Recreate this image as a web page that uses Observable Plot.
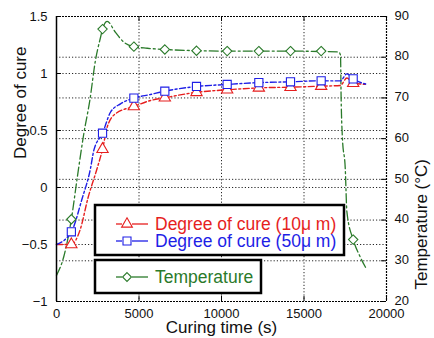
<!DOCTYPE html>
<html>
<head>
<meta charset="utf-8">
<script src="https://cdn.jsdelivr.net/npm/d3@7"></script>
<script src="https://cdn.jsdelivr.net/npm/@observablehq/plot@0.6"></script>
<style>
  html, body { margin: 0; padding: 0; background: #fff; }
  svg { display: block; }
</style>
</head>
<body>
<div id="chart"></div>
<script>
// ---- data ----
const xTicks = [0, 5000, 10000, 15000, 20000];
const cureTicks = [-1, -0.5, 0, 0.5, 1, 1.5];
const tempTicks = [20, 30, 40, 50, 60, 70, 80, 90];

// marker times (s)
const markTime = [900, 2790, 4690, 6565, 8485, 10343, 12263, 14182, 16040, 17980];
const markCure10 = [-0.50, 0.336, 0.711, 0.787, 0.835, 0.857, 0.874, 0.880, 0.889, 0.915];
const markCure50 = [-0.389, 0.476, 0.784, 0.845, 0.886, 0.904, 0.920, 0.927, 0.936, 0.953];
const markTemp = [40.2, 86.9, 82.6, 81.9, 81.6, 81.5, 81.5, 81.5, 81.5, 35.2];

// curves
const cure10Time = [0, 900, 1455, 1900, 2460, 2790, 3070, 3575, 4690, 5700, 6565, 8485, 10343, 12263, 14182, 16040, 17200, 17600, 17980, 18770];
const cure10Val  = [-0.5, -0.5, -0.36, -0.096, 0.167, 0.336, 0.529, 0.647, 0.711, 0.763, 0.787, 0.835, 0.857, 0.874, 0.880, 0.889, 0.895, 0.96, 0.915, 0.905];
const cure50Time = [0, 900, 1555, 2060, 2260, 2790, 3270, 3880, 4690, 5700, 6565, 8485, 10343, 12263, 14182, 16040, 17200, 17600, 17980, 18770];
const cure50Val  = [-0.5, -0.389, -0.096, 0.167, 0.325, 0.476, 0.66, 0.734, 0.784, 0.816, 0.845, 0.886, 0.904, 0.920, 0.927, 0.936, 0.935, 0.997, 0.953, 0.906];
const tempTime = [0, 440, 900, 1250, 1655, 2020, 2360, 2670, 2790, 3070, 3575, 4080, 4690, 5500, 6565, 8485, 10343, 12263, 14182, 16040, 17100, 17212, 17250, 17330, 17500, 17600, 17980, 18400, 18770];
const tempVal  = [26.4, 31, 40.2, 50.2, 61.2, 69.4, 79.2, 84.9, 86.9, 88.8, 86.1, 83.7, 82.6, 82.2, 81.9, 81.6, 81.5, 81.5, 81.5, 81.4, 81.3, 80.5, 70, 60, 52.7, 42, 35.2, 31, 28.1];

const seriesNames = ["Degree of cure (10μ m)", "Degree of cure (50μ m)", "Temperature"];
const colors = ["#e61e1e", "#1e1ee6", "#2a7a2a"];

// ---- mapping temperature onto the left scale ----
const toCure = t => -1 + (t - 20) / 70 * 2.5;
const fromCure = c => 20 + (c + 1) / 2.5 * 70;

const c10 = cure10Time.map((t, i) => ({t, v: cure10Val[i]}));
const c50 = cure50Time.map((t, i) => ({t, v: cure50Val[i]}));
const tmp = tempTime.map((t, i) => ({t, v: toCure(tempVal[i])}));
const m10 = markTime.map((t, i) => ({t, v: markCure10[i]}));
const m50 = markTime.map((t, i) => ({t, v: markCure50[i]}));
const mT = markTime.map((t, i) => ({t, v: toCure(markTemp[i])}));

const fmtCure = d => d < 0 ? "\u2212" + Math.abs(d) : String(d);
const grid = {stroke: "#000", strokeOpacity: 0.85, strokeDasharray: "1.2,2"};
const frameDot = {stroke: "#000", strokeWidth: 1.2, strokeDasharray: "2,1"};
const font = "'Liberation Sans', Arial, sans-serif";

const chart = Plot.plot({
  width: 434, height: 338,
  marginLeft: 56, marginRight: 48, marginTop: 16, marginBottom: 37,
  style: {fontFamily: font, fontSize: "13px", color: "#111", background: "white", overflow: "visible"},
  x: {domain: [0, 20000]},
  y: {domain: [-1, 1.5]},
  marks: [
    Plot.gridX([5000, 10000, 15000], grid),
    Plot.gridY([-0.5, 0, 0.5, 1], grid),
    Plot.gridY([30, 40, 50, 60, 70, 80].map(toCure), grid),
    Plot.axisX(xTicks, {tickSize: 0, tickPadding: 7, tickFormat: d => String(d), label: null, fontSize: 13}),
    Plot.axisY(cureTicks, {anchor: "left", tickSize: 0, tickPadding: 9, tickFormat: fmtCure, label: null, fontSize: 13}),
    Plot.axisY(tempTicks.map(toCure), {anchor: "right", tickSize: 0, tickPadding: 8, dy: -1, tickFormat: d => String(Math.round(fromCure(d))), label: null, fontSize: 13}),
    // inward ticks
    Plot.ruleY(cureTicks, {x1: 0, x2: 300, stroke: "#000"}),
    Plot.ruleY(tempTicks.map(toCure), {x1: 19700, x2: 20000, stroke: "#000"}),
    Plot.ruleX(xTicks, {y1: -1, y2: -0.956, stroke: "#000"}),
    Plot.ruleX(xTicks, {y1: 1.456, y2: 1.5, stroke: "#000"}),
    // curves
    Plot.line(tmp, {x: "t", y: "v", stroke: colors[2], strokeWidth: 1.3, strokeDasharray: "9,3,2,3", curve: "monotone-x"}),
    Plot.line(c10, {x: "t", y: "v", stroke: colors[0], strokeWidth: 1.4, strokeDasharray: "6,2.5,2,2.5", curve: "monotone-x"}),
    Plot.line(c50, {x: "t", y: "v", stroke: colors[1], strokeWidth: 1.4, strokeDasharray: "6,2.5,2,2.5", curve: "monotone-x"}),
    Plot.dot(mT, {x: "t", y: "v", symbol: "diamond2", r: 4.2, stroke: colors[2], fill: "white", strokeWidth: 1.1}),
    Plot.dot(m10, {x: "t", y: "v", symbol: "triangle", r: 4.2, stroke: colors[0], fill: "white", strokeWidth: 1.1}),
    Plot.dot(m50, {x: "t", y: "v", symbol: "square", r: 4.6, stroke: colors[1], fill: "white", strokeWidth: 1.1}),
    // frame
    Plot.ruleX([0], {stroke: "#000", strokeWidth: 1.5}),
    Plot.ruleX([20000], frameDot),
    Plot.ruleY([-1], frameDot),
    Plot.ruleY([1.5], frameDot),
    // axis titles
    Plot.text(["Degree of cure"], {frameAnchor: "left", dx: -36, rotate: -90, fontSize: 17, fill: "#111"}),
    Plot.text(["Temperature (°C)"], {frameAnchor: "right", dx: 35, rotate: -90, fontSize: 17, fill: "#111"}),
    Plot.text(["Curing time (s)"], {frameAnchor: "bottom", dy: 31, fontSize: 17, fill: "#111"})
  ]
});
document.getElementById("chart").appendChild(chart);

// ---- legend boxes drawn inside the plot area ----
const svg = d3.select(chart);
const lg = svg.append("g").attr("font-family", font).attr("font-size", 17.5).attr("text-anchor", "start");
const boxes = [{x: 95, y: 205, w: 249, h: 50}, {x: 95, y: 260, w: 166, h: 33}];
boxes.forEach(b => lg.append("rect").attr("x", b.x).attr("y", b.y).attr("width", b.w).attr("height", b.h)
  .attr("fill", "white").attr("stroke", "#000").attr("stroke-width", 2.5));
const rows = [{y: 224, sym: d3.symbolTriangle, size: 50}, {y: 241, sym: d3.symbolSquare, size: 64}, {y: 277, sym: d3.symbolDiamond2, size: 50}];
rows.forEach((r, i) => {
  lg.append("line").attr("x1", 116).attr("x2", 122).attr("y1", r.y).attr("y2", r.y).attr("stroke", colors[i]).attr("stroke-width", 1.3);
  lg.append("line").attr("x1", 132).attr("x2", 148).attr("y1", r.y).attr("y2", r.y).attr("stroke", colors[i]).attr("stroke-width", 1.3);
  lg.append("path").attr("d", d3.symbol(r.sym, r.size)()).attr("transform", `translate(127,${r.y})`)
    .attr("fill", "white").attr("stroke", colors[i]).attr("stroke-width", 1.1);
  lg.append("text").attr("x", 155).attr("y", r.y).attr("dy", "0.35em").attr("text-anchor", "start")
    .attr("fill", colors[i]).text(seriesNames[i]);
});
</script>
</body>
</html>
